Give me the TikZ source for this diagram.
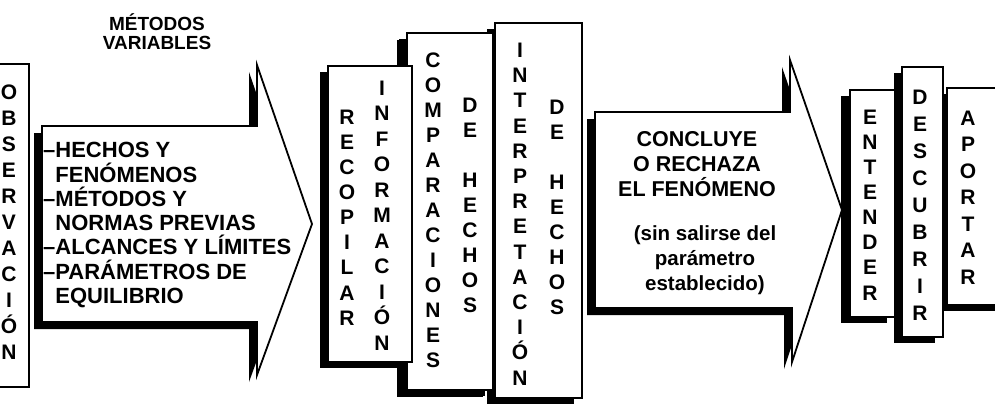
\documentclass[tikz,border=0pt]{standalone}
\usepackage{fontspec}
\setmainfont{Liberation Sans}
\usetikzlibrary{shadows}
\begin{document}
\begin{tikzpicture}[x=1pt,y=-1pt,
  outl/.style={draw=black, line width=1.8pt, line join=miter, fill=white},
  shad/.style={fill=black},
  boxst/.style={draw=black, line width=1.7pt, fill=white, inner sep=0pt,
     drop shadow={shadow xshift=-8pt, shadow yshift=-6pt, opacity=1, fill=black}},
  col/.style={font=\fontsize{21}{#1}\selectfont\bfseries, align=center, inner sep=0pt},
]
\useasboundingbox (0,0) rectangle (995,405);

% OBSERVACION box
\node[draw=black, line width=2.6pt, fill=white, inner sep=0pt,
      minimum width=42pt, minimum height=323pt] (obsbox) at (8,225.5) {};
\node[col=26] (obs) at (9,222) {O\\B\\S\\E\\R\\V\\A\\C\\I\\Ó\\N};

% Arrow 1
\fill[shad, shift={(-8,7)}] (42,126) -- (257,126) -- (257,65) -- (312,224) -- (257,375) -- (257,322) -- (42,322) -- cycle;
\draw[outl] (42,126) -- (257,126) -- (257,65) -- (312,224) -- (257,375) -- (257,322) -- (42,322) -- cycle;
\node[align=left, inner sep=0pt, anchor=north west, font=\fontsize{22}{24.3}\selectfont\bfseries] (list) at (43,142.2)
  {–HECHOS Y\\\phantom{–}FENÓMENOS\\–MÉTODOS Y\\\phantom{–}NORMAS PREVIAS\\–ALCANCES Y LÍMITES\\–PARÁMETROS DE\\\phantom{–}EQUILIBRIO};
\node[align=center, inner sep=0pt, anchor=south, font=\fontsize{19}{19}\selectfont\bfseries] (metodos) at (157,50.3)
  {MÉTODOS\\VARIABLES};

% middle boxes
\node[boxst, minimum width=87pt, minimum height=375pt] (interp) at (538.5,210.5) {};
\node[boxst, minimum width=86pt, minimum height=357pt,
      drop shadow={shadow xshift=-10pt, shadow yshift=-7pt, opacity=1, fill=black}] (compar) at (450,211.5) {};
\node[boxst, minimum width=84pt, minimum height=296pt] (recop) at (370,214) {};

\node[col=25.1] (recopilar) at (347,217.5) {R\\E\\C\\O\\P\\I\\L\\A\\R};
\node[col=25.5] (informacion) at (382,215.5) {I\\N\\F\\O\\R\\M\\A\\C\\I\\Ó\\N};
\node[col=25] (comparaciones) at (433,210) {C\\O\\M\\P\\A\\R\\A\\C\\I\\O\\N\\E\\S};
\node[col=25] (dehechosA) at (470,205) {D\\E\\\mbox{}\\H\\E\\C\\H\\O\\S};
\node[col=25.2] (interpretacion) at (520,214) {I\\N\\T\\E\\R\\P\\R\\E\\T\\A\\C\\I\\Ó\\N};
\node[col=25] (dehechosB) at (557,207) {D\\E\\\mbox{}\\H\\E\\C\\H\\O\\S};

% Arrow 2
\fill[shad, shift={(-8,7)}] (595,112) -- (790,112) -- (790,60) -- (842,210) -- (792,362) -- (792,308) -- (595,308) -- cycle;
\draw[outl] (595,112) -- (790,112) -- (790,60) -- (842,210) -- (792,362) -- (792,308) -- (595,308) -- cycle;
\node[align=center, inner sep=0pt, font=\fontsize{21.5}{25}\selectfont\bfseries] (concluye) at (697,164)
  {CONCLUYE\\O RECHAZA\\EL FENÓMENO};
\node[align=center, inner sep=0pt, anchor=north, font=\fontsize{20.5}{25}\selectfont\bfseries] (sin) at (705,225.4)
  {(sin salirse del\\parámetro\\establecido)};

% right boxes
\node[boxst, minimum width=45pt, minimum height=227pt,
      drop shadow={shadow xshift=-9pt, shadow yshift=-6pt, opacity=1, fill=black}] (entbox) at (872.5,203.5) {};
\node[boxst, minimum width=58pt, minimum height=217pt] (apobox) at (976,196.5) {};
\node[boxst, minimum width=41pt, minimum height=270pt] (desbox) at (922.5,202) {};

\node[col=25.1] (entender) at (870,205) {E\\N\\T\\E\\N\\D\\E\\R};
\node[col=27] (descubrir) at (920,205) {D\\E\\S\\C\\U\\B\\R\\I\\R};
\node[col=26.5] (aportar) at (968,197.5) {A\\P\\O\\R\\T\\A\\R};
\end{tikzpicture}
\end{document}
